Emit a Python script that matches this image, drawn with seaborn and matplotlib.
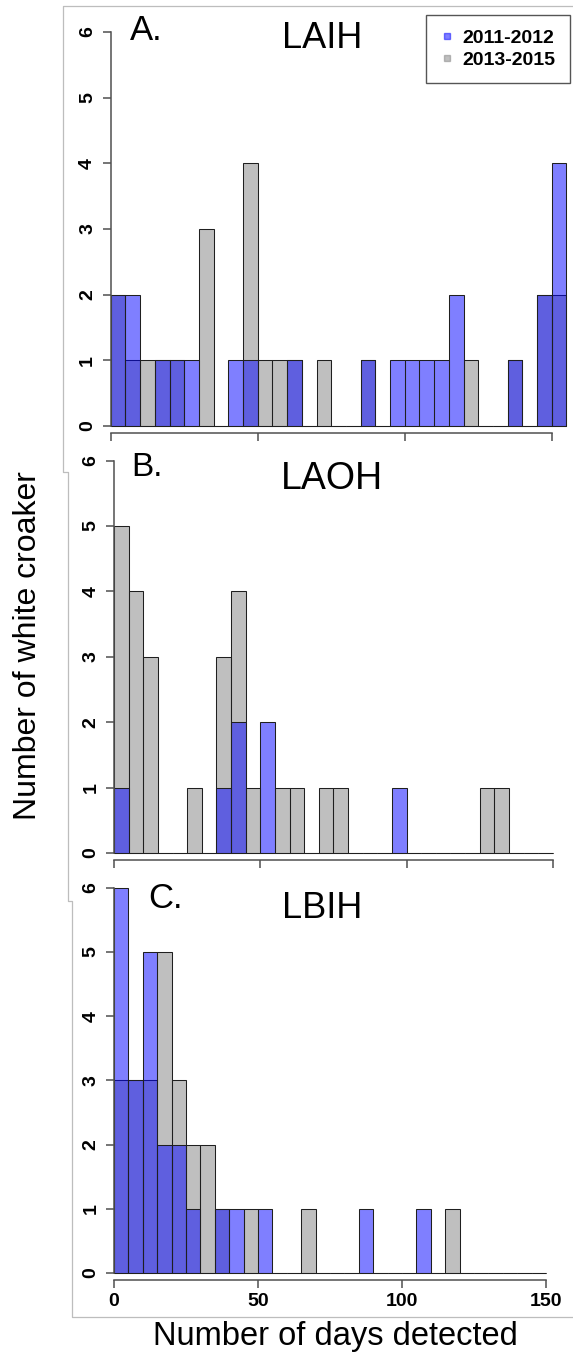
import numpy as np
import pandas as pd
import seaborn as sns
import matplotlib
matplotlib.use("Agg")
import matplotlib.pyplot as plt
from matplotlib.lines import Line2D

sns.set_style("white")
plt.rcParams["font.family"] = ["Liberation Sans", "DejaVu Sans"]
plt.rcParams["text.color"] = "black"
plt.rcParams["xtick.color"] = "black"
plt.rcParams["ytick.color"] = "black"

# Detection counts per 5-day bin (number of fish per bin)
series_labels = ["2011-2012", "2013-2015"]
binwidth = 5

laih_2011 = [2, 2, 0, 1, 1, 1, 0, 0, 1, 1, 0, 0, 1, 0, 0, 0, 0, 1, 0, 1,
             1, 1, 1, 2, 0, 0, 0, 1, 0, 2, 4]
laih_2013 = [2, 1, 1, 1, 1, 0, 3, 0, 0, 4, 1, 1, 1, 0, 1, 0, 0, 1, 0, 0,
             0, 0, 0, 0, 1, 0, 0, 1, 0, 2, 2]

laoh_2011 = [1, 0, 0, 0, 0, 0, 0, 1, 2, 0, 2, 0, 0, 0, 0, 0, 0, 0, 0, 1,
             0, 0, 0, 0, 0, 0, 0, 0, 0, 0]
laoh_2013 = [5, 4, 3, 0, 0, 1, 0, 3, 4, 1, 0, 1, 1, 0, 1, 1, 0, 0, 0, 0,
             0, 0, 0, 0, 0, 1, 1, 0, 0, 0]

lbih_2011 = [6, 3, 5, 2, 2, 1, 0, 1, 1, 0, 1, 0, 0, 0, 0, 0, 0, 1, 0, 0,
             0, 1, 0, 0, 0, 0, 0, 0, 0, 0]
lbih_2013 = [3, 3, 3, 5, 3, 2, 2, 1, 0, 1, 0, 0, 0, 1, 0, 0, 0, 0, 0, 0,
             0, 0, 0, 1, 0, 0, 0, 0, 0, 0]

panel_letters = ["A.", "B.", "C."]
site_names = ["LAIH", "LAOH", "LBIH"]
x_ticks = [0, 50, 100, 150]
y_ticks = [0, 1, 2, 3, 4, 5, 6]

W, H = 573, 1360
fig = plt.figure(figsize=(W / 100, H / 100), dpi=100)

BLUE = (0.0, 0.0, 1.0, 0.5)
GRAY = (0.5, 0.5, 0.5, 0.5)
EDGE = (0.12, 0.12, 0.12, 1.0)
AXCOL = "#505050"


def fx(px):
    return px / W


def fy(py):
    return 1 - py / H


def add_panel(x0, scale_x, y0, scale_y, xmax=156, ymax=6.25):
    x1 = x0 + xmax * scale_x
    ytop = y0 - ymax * scale_y
    ax = fig.add_axes([fx(x0), fy(y0), (x1 - x0) / W, (y0 - ytop) / H])
    ax.set_facecolor("none")
    return ax


# Panel geometry: (x of day 0, px per day, y of count 0, px per count)
geoms = [(110.7, 2.94, 426, 65.7),
         (114.0, 2.925, 853, 65.4),
         (114.0, 2.88, 1273, 64.2)]
data = [(laih_2011, laih_2013), (laoh_2011, laoh_2013), (lbih_2011, lbih_2013)]

axes = []
for i, ((x0, sx, y0, sy), (blue, gray)) in enumerate(zip(geoms, data)):
    ax = add_panel(x0, sx, y0, sy)
    axes.append(ax)
    nb = len(blue)
    centers = np.arange(nb) * binwidth + binwidth / 2
    df = pd.DataFrame({"days": centers, "n2011": blue, "n2013": gray})
    common = dict(data=df, x="days", binwidth=binwidth, binrange=(0, nb * binwidth),
                  ax=ax, element="bars", edgecolor=EDGE, linewidth=0.75)
    sns.histplot(weights="n2013", facecolor=GRAY, **common)
    sns.histplot(weights="n2011", facecolor=BLUE, **common)
    for p in ax.patches:
        p.set_clip_on(False)
    ax.set_xlabel("")
    ax.set_ylabel("")
    ax.set_xlim(0, 156)
    ax.set_ylim(0, 6.25)

    for s in ["top", "right"]:
        ax.spines[s].set_visible(False)
    ax.spines["left"].set_bounds(0, 6)
    ax.spines["bottom"].set_bounds(0, 150)
    ax.spines["bottom"].set_position(("outward", 5))
    for s in ["left", "bottom"]:
        ax.spines[s].set_color(AXCOL)
        ax.spines[s].set_linewidth(1.1)

    ax.set_xticks(x_ticks)
    ax.set_yticks(y_ticks)
    ax.tick_params(axis="both", which="major", bottom=True, left=True,
                   direction="out", length=5.5, width=1.1,
                   color=AXCOL, labelcolor="black", labelsize=14, pad=4)
    ax.tick_params(axis="y", labelrotation=90, pad=5)
    for lab in ax.get_yticklabels() + ax.get_xticklabels():
        lab.set_fontweight("bold")
    for lab in ax.get_yticklabels():
        lab.set_va("center")
    if i < 2:
        ax.tick_params(axis="x", labelbottom=False)

# Panel letters and site titles
letter_pos = [(130, 31, 25), (131, 468, 24), (148, 898, 25)]
title_pos = [(322, 39, 26), (332, 479, 27), (322, 908, 26)]
for (lx, ly, ls), (tx, ty, ts), let, site in zip(letter_pos, title_pos,
                                                  panel_letters, site_names):
    fig.text(fx(lx), fy(ly), let, fontsize=ls, ha="left", va="center")
    fig.text(fx(tx), fy(ty), site, fontsize=ts, ha="center", va="center")

# Legend in panel A
handles = [Line2D([], [], marker="s", linestyle="", color=BLUE, markersize=5),
           Line2D([], [], marker="s", linestyle="", color=GRAY, markersize=5)]
leg = axes[0].legend(handles, series_labels, loc="upper right",
                     bbox_to_anchor=(fx(570), fy(15)), bbox_transform=fig.transFigure,
                     borderaxespad=0, fancybox=False, framealpha=1,
                     edgecolor="#555555", prop={"weight": "bold", "size": 14},
                     handlelength=0.6, handletextpad=0.5, borderpad=0.75,
                     labelspacing=0.2)
leg.get_frame().set_linewidth(1.0)
for t in leg.get_texts():
    t.set_color("black")

# Axis titles
fig.text(fx(335), fy(1337), "Number of days detected", fontsize=23.5,
         ha="center", va="center")
fig.text(fx(28), fy(646), "Number of white croaker", fontsize=23,
         rotation=90, ha="center", va="center")

# Light frame outline around the stacked panels
fx_pts = [573, 63, 63, 68, 68, 72, 72, 573]
fy_pts = [6, 6, 472, 472, 900.7, 900.7, 1317, 1317]
fig.add_artist(Line2D([fx(v) for v in fx_pts], [fy(v) for v in fy_pts],
                      color="#bdbdbd", linewidth=0.9, transform=fig.transFigure))

fig.savefig("out.png", dpi=100)
